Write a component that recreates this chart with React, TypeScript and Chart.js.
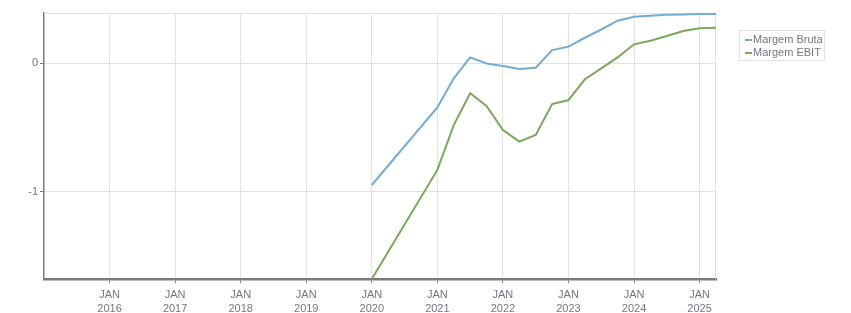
import React, { useEffect, useRef } from "react";
import { Chart, registerables } from "chart.js";

Chart.register(...registerables);

const periods = [2020, 2021, 2021.25, 2021.5, 2021.75, 2022, 2022.25, 2022.5, 2022.75, 2023, 2023.25, 2023.5, 2023.75, 2024, 2024.25, 2024.5, 2024.75, 2025, 2025.25];
const margemBruta = [-0.946, -0.344, -0.119, 0.044, -0.003, -0.023, -0.047, -0.036, 0.1, 0.127, 0.196, 0.26, 0.328, 0.359, 0.367, 0.375, 0.377, 0.38, 0.38];
const margemEbit = [-1.675, -0.829, -0.481, -0.235, -0.333, -0.519, -0.61, -0.558, -0.318, -0.287, -0.126, -0.041, 0.044, 0.145, 0.173, 0.209, 0.248, 0.269, 0.274];
const tickYears = [2016, 2017, 2018, 2019, 2020, 2021, 2022, 2023, 2024, 2025];
const yTicks = [-1, 0];
const seriesNames = ["Margem Bruta", "Margem EBIT"];
const seriesColors = ["#72acd3", "#78a85b"];

const FONT = "'Liberation Sans', Arial, sans-serif";
const GRID = "#e2e2e2";
const AXIS = "#7a7a7a";
const TEXT = "#757584";

const frame = {
  id: "frame",
  beforeDatasetsDraw(chart: any) {
    const { ctx, chartArea } = chart;
    ctx.save();
    ctx.strokeStyle = GRID;
    ctx.lineWidth = 1;
    ctx.beginPath();
    ctx.moveTo(chartArea.left, chartArea.top + 0.5);
    ctx.lineTo(chartArea.right, chartArea.top + 0.5);
    ctx.moveTo(chartArea.right - 0.5, chartArea.top);
    ctx.lineTo(chartArea.right - 0.5, chartArea.bottom);
    ctx.stroke();
    ctx.restore();
  },
};

export default function App() {
  const ref = useRef<HTMLCanvasElement>(null);
  useEffect(() => {
    const mk = (vals: number[]) => periods.map((p, i) => ({ x: p, y: vals[i] }));
    const chart = new Chart(ref.current!, {
      type: "line",
      data: {
        datasets: [
          { label: seriesNames[0], data: mk(margemBruta), borderColor: seriesColors[0], backgroundColor: seriesColors[0], borderWidth: 2, pointRadius: 0, tension: 0 },
          { label: seriesNames[1], data: mk(margemEbit), borderColor: seriesColors[1], backgroundColor: seriesColors[1], borderWidth: 2, pointRadius: 0, tension: 0 },
        ],
      },
      plugins: [frame],
      options: {
        animation: false,
        responsive: false,
        maintainAspectRatio: false,
        layout: { padding: { left: 0, right: 135, top: 13, bottom: 0 } },
        plugins: { legend: { display: false }, tooltip: { enabled: false } },
        scales: {
          x: {
            type: "linear",
            min: 2015,
            max: 2025.25,
            afterBuildTicks: (s: any) => { s.ticks = tickYears.map((v) => ({ value: v })); },
            afterFit: (s: any) => { s.height = 34; },
            ticks: {
              color: TEXT,
              font: { family: FONT, size: 11, lineHeight: 1.25 },
              padding: 5,
              maxRotation: 0,
              autoSkip: false,
              callback: (v: any) => ["JAN", String(v)],
            },
            grid: { color: GRID, tickColor: AXIS, tickLength: 4, lineWidth: 1 },
            border: { color: AXIS, width: 2.5 },
          },
          y: {
            type: "linear",
            min: -1.675,
            max: 0.388,
            afterBuildTicks: (s: any) => { s.ticks = yTicks.map((v) => ({ value: v })); },
            afterFit: (s: any) => { s.width = 44; },
            ticks: {
              color: TEXT,
              font: { family: FONT, size: 11 },
              padding: 2,
              callback: (v: any) => String(v),
            },
            grid: { color: GRID, tickColor: AXIS, tickLength: 4, lineWidth: 1 },
            border: { color: AXIS, width: 1.5 },
          },
        },
      },
    });
    return () => chart.destroy();
  }, []);

  return (
    <div style={{ position: "absolute", left: 0, top: 0, width: 851, height: 313, background: "#fff" }}>
      <canvas ref={ref} width={851} height={313} style={{ width: 851, height: 313, display: "block" }} />
      <div
        style={{
          position: "absolute",
          left: 739,
          top: 30,
          width: 84,
          height: 27,
          border: "1px solid #e0e0e0",
          fontFamily: FONT,
          fontSize: 11,
          color: TEXT,
          lineHeight: "13px",
          padding: "2px 0 0 0",
          boxSizing: "content-box",
        }}
      >
        {seriesNames.map((n, i) => (
          <div key={n} style={{ display: "flex", alignItems: "center", whiteSpace: "nowrap" }}>
            <span style={{ display: "inline-block", width: 7, height: 2, background: seriesColors[i], marginLeft: 5, marginRight: 1 }} />
            <span>{n}</span>
          </div>
        ))}
      </div>
    </div>
  );
}
